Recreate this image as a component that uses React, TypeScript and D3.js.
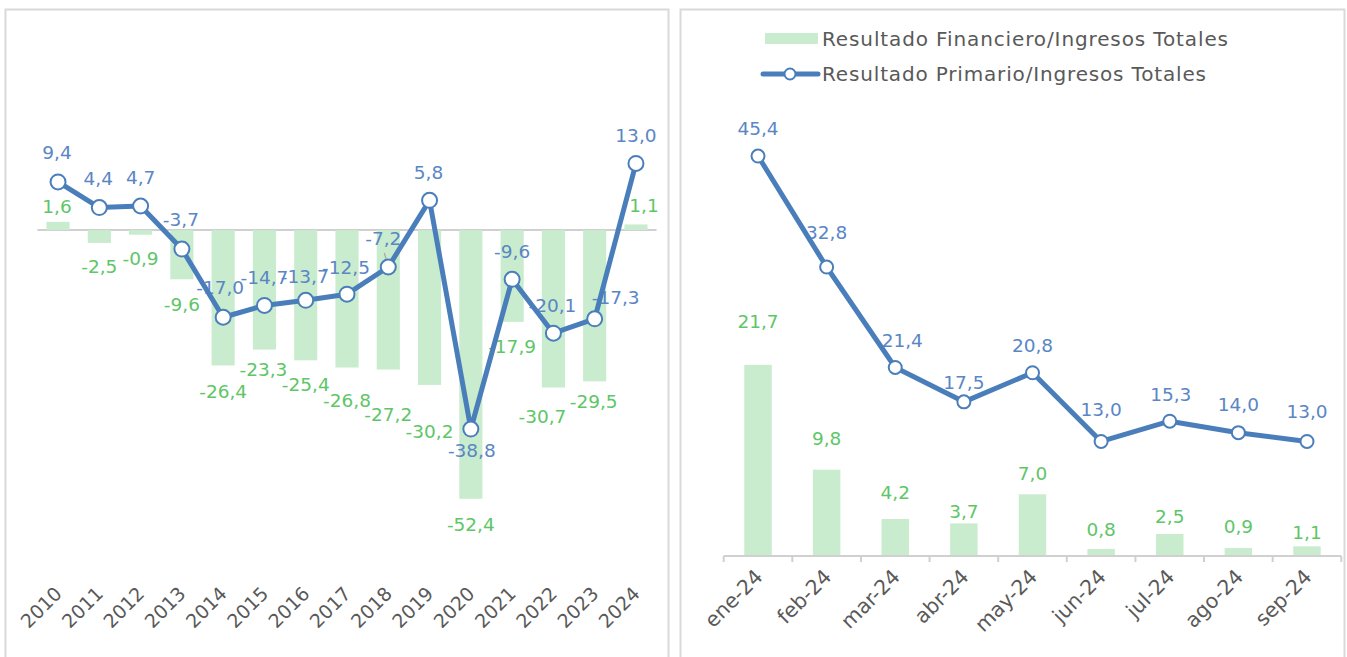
import React from "react";
import * as d3 from "d3";

// ---------- data ----------
const years = ["2010","2011","2012","2013","2014","2015","2016","2017","2018","2019","2020","2021","2022","2023","2024"];
const annualFinanciero = [1.6,-2.5,-0.9,-9.6,-26.4,-23.3,-25.4,-26.8,-27.2,-30.2,-52.4,-17.9,-30.7,-29.5,1.1];
const annualPrimario = [9.4,4.4,4.7,-3.7,-17.0,-14.7,-13.7,-12.5,-7.2,5.8,-38.8,-9.6,-20.1,-17.3,13.0];

const months = ["ene-24","feb-24","mar-24","abr-24","may-24","jun-24","jul-24","ago-24","sep-24"];
const monthlyFinanciero = [21.7,9.8,4.2,3.7,7.0,0.8,2.5,0.9,1.1];
const monthlyPrimario = [45.4,32.8,21.4,17.5,20.8,13.0,15.3,14.0,13.0];

const legendLabels = ["Resultado Financiero/Ingresos Totales","Resultado Primario/Ingresos Totales"];

// ---------- label nudges (dx, dy) relative to marks ----------
const annualLineNudge: [number, number][] = [[-1,-29],[-1,-29],[0,-28],[-1,-30],[-3,-30],[0,-28],[-1,-24],[-1,-27],[-5,-29],[-1,-28],[1,21],[0,-28],[-1,-28],[21,-21],[0,-28]];
const annualBarNudge: [number, number][] = [[-1,-15],[0,24],[0,24],[0,25],[0,26],[-1,20],[0,24],[0,33],[0,45],[0,47],[0,26],[0,25],[-11,29],[-1,20],[8,-19]];
const monthlyLineNudge: [number, number][] = [[0,-28],[0,-35],[7,-27],[0,-19],[0,-27],[0,-32],[1,-27],[0,-28],[0,-30]];
const monthlyBarNudge: [number, number][] = [[0,-43],[0,-31],[0,-26],[0,-12],[0,-21],[0,-19],[0,-17],[0,-22],[0,-14]];

// ---------- styles ----------
const FONT = "'Century Gothic', 'DejaVu Sans', sans-serif";
const BAR = "#c8eccd";
const LINE = "#4a7ebb";
const BLUE_TXT = "#5a86c5";
const GREEN_TXT = "#5ec667";
const AXIS_TXT = "#595959";
const BORDER = "#d9d9d9";
const LABEL_SIZE = 18.5;

const fmt = (v: number) => v.toFixed(1).replace(".", ",");

function AnnualChart() {
  const x = d3.scaleBand<string>().domain(years).range([37.4, 656.6]).padding(0);
  const y = d3.scaleLinear().domain([-70, 40]).range([589, 25]);
  const bw = x.bandwidth() * 0.56;
  const cx = (c: string) => (x(c) as number) + x.bandwidth() / 2;
  const line = d3.line<number>().x((_, i) => cx(years[i])).y((d) => y(d));
  const pts = annualPrimario.map((v, i) => [cx(years[i]), y(v)]);
  return (
    <g>
      <rect x={5.5} y={9.5} width={663} height={680} fill="#fff" stroke={BORDER} strokeWidth={2} />
      <line x1={x.range()[0]} x2={x.range()[1]} y1={y(0)} y2={y(0)} stroke="#d0d0d0" strokeWidth={2} />
      {annualFinanciero.map((v, i) => (
        <rect key={"b" + i} x={cx(years[i]) - bw / 2} width={bw}
          y={Math.min(y(0), y(v))} height={Math.abs(y(v) - y(0))} fill={BAR} />
      ))}
      {annualFinanciero.map((v, i) => (
        <text key={"bl" + i} x={cx(years[i]) + annualBarNudge[i][0]} y={y(v) + annualBarNudge[i][1]}
          textAnchor="middle" dominantBaseline="central" fill={GREEN_TXT} fontSize={LABEL_SIZE}>{fmt(v)}</text>
      ))}
      {annualPrimario.map((v, i) => (
        <text key={"ll" + i} x={pts[i][0] + annualLineNudge[i][0]} y={pts[i][1] + annualLineNudge[i][1]}
          textAnchor="middle" dominantBaseline="central" fill={BLUE_TXT} fontSize={LABEL_SIZE}>{fmt(v)}</text>
      ))}
      <line x1={pts[8][0] - 4} y1={pts[8][1] - 14} x2={pts[8][0]} y2={pts[8][1] - 1} stroke="#a6a6a6" strokeWidth={1.2} />
      <path d={line(annualPrimario) || ""} fill="none" stroke={LINE} strokeWidth={5} strokeLinejoin="round" />
      {pts.map((p, i) => (
        <circle key={"c" + i} cx={p[0]} cy={p[1]} r={7.5} fill="#fff" stroke={LINE} strokeWidth={2} />
      ))}
      {years.map((c) => (
        <text key={"t" + c} transform={`translate(${cx(c) + 5},${595}) rotate(-45)`} textAnchor="end"
          fill={AXIS_TXT} fontSize={19}>{c}</text>
      ))}
    </g>
  );
}

function MonthlyChart() {
  const x = d3.scaleBand<string>().domain(months).range([723.7, 1341.3]).padding(0);
  const y = d3.scaleLinear().domain([0, 50]).range([556, 115.5]);
  const bw = x.bandwidth() * 0.4;
  const cx = (c: string) => (x(c) as number) + x.bandwidth() / 2;
  const line = d3.line<number>().x((_, i) => cx(months[i])).y((d) => y(d));
  const pts = monthlyPrimario.map((v, i) => [cx(months[i]), y(v)]);
  const bounds = months.map((c) => x(c) as number).concat([x.range()[1]]);
  return (
    <g>
      <rect x={680.5} y={9.5} width={664} height={680} fill="#fff" stroke={BORDER} strokeWidth={2} />
      {monthlyFinanciero.map((v, i) => (
        <rect key={"b" + i} x={cx(months[i]) - bw / 2} width={bw} y={y(v)} height={y(0) - y(v)} fill={BAR} />
      ))}
      <line x1={x.range()[0]} x2={x.range()[1]} y1={y(0)} y2={y(0)} stroke="#d0d0d0" strokeWidth={2} />
      {bounds.map((b, i) => (
        <line key={"tk" + i} x1={b} x2={b} y1={y(0)} y2={y(0) + 6} stroke="#d0d0d0" strokeWidth={2} />
      ))}
      {monthlyFinanciero.map((v, i) => (
        <text key={"bl" + i} x={cx(months[i]) + monthlyBarNudge[i][0]} y={y(v) + monthlyBarNudge[i][1]}
          textAnchor="middle" dominantBaseline="central" fill={GREEN_TXT} fontSize={LABEL_SIZE}>{fmt(v)}</text>
      ))}
      {monthlyPrimario.map((v, i) => (
        <text key={"ll" + i} x={pts[i][0] + monthlyLineNudge[i][0]} y={pts[i][1] + monthlyLineNudge[i][1]}
          textAnchor="middle" dominantBaseline="central" fill={BLUE_TXT} fontSize={LABEL_SIZE}>{fmt(v)}</text>
      ))}
      <path d={line(monthlyPrimario) || ""} fill="none" stroke={LINE} strokeWidth={5} strokeLinejoin="round" />
      {pts.map((p, i) => (
        <circle key={"c" + i} cx={p[0]} cy={p[1]} r={6.5} fill="#fff" stroke={LINE} strokeWidth={2} />
      ))}
      {months.map((c) => (
        <text key={"t" + c} transform={`translate(${cx(c) + 6},${578}) rotate(-45)`} textAnchor="end"
          fill={AXIS_TXT} fontSize={20.5}>{c}</text>
      ))}
      {/* legend */}
      <rect x={765} y={33} width={53} height={11} fill={BAR} />
      <text x={822} y={39} dominantBaseline="central" fill={AXIS_TXT} fontSize={20}
        textLength={406} lengthAdjust="spacing">{legendLabels[0]}</text>
      <line x1={763} x2={818} y1={74} y2={74} stroke={LINE} strokeWidth={5} strokeLinecap="round" />
      <circle cx={790} cy={74} r={5.5} fill="#fff" stroke={LINE} strokeWidth={2} />
      <text x={822} y={74} dominantBaseline="central" fill={AXIS_TXT} fontSize={20}
        textLength={384} lengthAdjust="spacing">{legendLabels[1]}</text>
    </g>
  );
}

export default function App() {
  return (
    <svg width={1347} height={657} style={{ position: "absolute", left: 0, top: 0, fontFamily: FONT, background: "#fff" }}>
      <AnnualChart />
      <MonthlyChart />
    </svg>
  );
}
